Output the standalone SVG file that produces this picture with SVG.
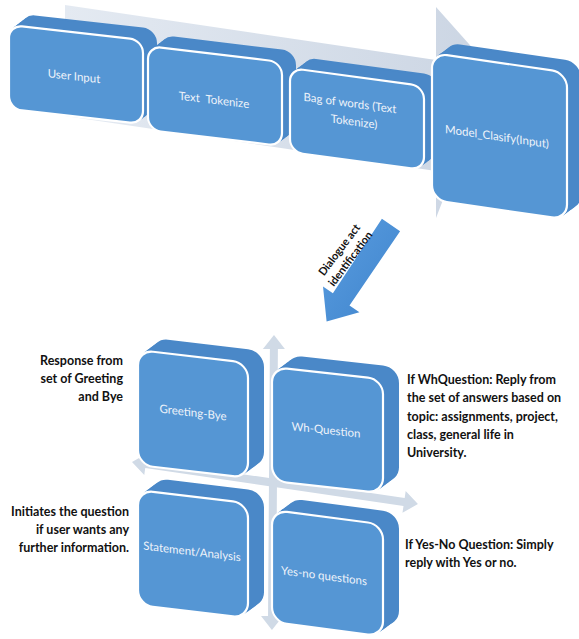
<svg xmlns="http://www.w3.org/2000/svg" width="579" height="639" viewBox="0 0 579 639">
<defs>
<linearGradient id="bandGrad" x1="0" y1="0" x2="1" y2="0">
<stop offset="0" stop-color="#e4eaf2"/>
<stop offset="1" stop-color="#cbd5e3"/>
</linearGradient>
<linearGradient id="dlgGrad" x1="0" y1="0" x2="1" y2="1">
<stop offset="0" stop-color="#5a9de0"/>
<stop offset="1" stop-color="#3f84cc"/>
</linearGradient>
<style>
.front{fill:#5596d4;stroke:#ffffff;stroke-width:2.2}
.ext{fill:#4a88c8;stroke:#4a88c8;stroke-width:2}
.lbl{font-family:Lato,"Open Sans","Liberation Sans",sans-serif;font-size:11.5px;fill:#eef3fa;text-anchor:middle}
.note{font-family:Lato,"Liberation Sans",sans-serif;font-weight:bold;font-size:12.5px;fill:#111111}
.dlg{font-family:Lato,"Liberation Sans",sans-serif;font-weight:bold;font-size:11px;fill:#111111;text-anchor:middle}
.axis{fill:#d0dae6}
</style>
</defs>
<rect width="579" height="639" fill="#ffffff"/>

<g id="connectors">
<polygon id="flow-band" fill="url(#bandGrad)" points="65,5 436,60 436,7 493,71 436,218 436,171 65,116"/>
<polygon id="axis-h" class="axis" transform="translate(132,462) rotate(8.35)" points="0,0 14,-11 14,-4 275,-4 275,-11 289,0 275,11 275,4 14,4 14,11"/>
<polygon id="axis-v" class="axis" transform="translate(274,335) rotate(90.4)" points="0,0 14,-11 14,-4 281,-4 281,-11 295,0 281,11 281,4 14,4 14,11"/>
<g id="dialogue-arrow">
<polygon fill="url(#dlgGrad)" points="381.9,218.8 400.1,231.2 349.5,305.5 359.4,312.3 326.6,321.5 323,286.5 332.9,293.3"/>
<text class="dlg" transform="translate(339.5,250) rotate(-53)" y="3.5">Dialogue act</text>
<text class="dlg" transform="translate(350.5,259) rotate(-53)" y="3.5">identification</text>
</g>
</g>

<g id="n-user-input" transform="matrix(1,0.112,0,1,9,25)">
<rect class="ext" x="2.6" y="-2.3" width="134" height="84" rx="13"/>
<rect class="ext" x="5.2" y="-4.6" width="134" height="84" rx="13"/>
<rect class="ext" x="7.8" y="-6.9" width="134" height="84" rx="13"/>
<rect class="ext" x="10.4" y="-9.2" width="134" height="84" rx="13"/>
<rect class="ext" x="13" y="-11.5" width="134" height="84" rx="13"/>
<rect class="front" width="134" height="84" rx="13"/>
<text class="lbl" x="65" y="48">User Input</text>
</g>

<g id="n-text-tokenize" transform="matrix(1,0.12,0,1,148,46)">
<rect class="ext" x="2.6" y="-2.3" width="134" height="84" rx="13"/>
<rect class="ext" x="5.2" y="-4.6" width="134" height="84" rx="13"/>
<rect class="ext" x="7.8" y="-6.9" width="134" height="84" rx="13"/>
<rect class="ext" x="10.4" y="-9.2" width="134" height="84" rx="13"/>
<rect class="ext" x="13" y="-11.5" width="134" height="84" rx="13"/>
<rect class="front" width="134" height="84" rx="13"/>
<text class="lbl" x="66" y="50" xml:space="preserve">Text  Tokenize</text>
</g>

<g id="n-bag-of-words" transform="matrix(1,0.135,0,1,290,68)">
<rect class="ext" x="2.6" y="-2.3" width="134" height="84" rx="13"/>
<rect class="ext" x="5.2" y="-4.6" width="134" height="84" rx="13"/>
<rect class="ext" x="7.8" y="-6.9" width="134" height="84" rx="13"/>
<rect class="ext" x="10.4" y="-9.2" width="134" height="84" rx="13"/>
<rect class="ext" x="13" y="-11.5" width="134" height="84" rx="13"/>
<rect class="front" width="134" height="84" rx="13"/>
<text class="lbl" x="60" y="31">Bag of words (Text</text>
<text class="lbl" x="64" y="49">Tokenize)</text>
</g>

<g id="n-model-classify" transform="matrix(1,0.145,0,1,432,53)">
<rect class="ext" x="2.6" y="-2.3" width="135" height="147" rx="15"/>
<rect class="ext" x="5.2" y="-4.6" width="135" height="147" rx="15"/>
<rect class="ext" x="7.8" y="-6.9" width="135" height="147" rx="15"/>
<rect class="ext" x="10.4" y="-9.2" width="135" height="147" rx="15"/>
<rect class="ext" x="13" y="-11.5" width="135" height="147" rx="15"/>
<rect class="front" width="135" height="147" rx="15"/>
<text class="lbl" x="65" y="78">Model_Clasify(Input)</text>
</g>

<g id="n-greeting-bye" transform="matrix(1,0.118,0,1,138,350)">
<rect class="ext" x="3" y="-2.56" width="110" height="115" rx="15"/>
<rect class="ext" x="6" y="-5.12" width="110" height="115" rx="15"/>
<rect class="ext" x="9" y="-7.68" width="110" height="115" rx="15"/>
<rect class="ext" x="12" y="-10.24" width="110" height="115" rx="15"/>
<rect class="ext" x="15" y="-12.8" width="110" height="115" rx="15"/>
<rect class="front" width="110" height="115" rx="15"/>
<text class="lbl" x="55" y="60">Greeting-Bye</text>
</g>

<g id="n-wh-question" transform="matrix(1,0.11,0,1,272,367)">
<rect class="ext" x="3" y="-2.56" width="111" height="114" rx="15"/>
<rect class="ext" x="6" y="-5.12" width="111" height="114" rx="15"/>
<rect class="ext" x="9" y="-7.68" width="111" height="114" rx="15"/>
<rect class="ext" x="12" y="-10.24" width="111" height="114" rx="15"/>
<rect class="ext" x="15" y="-12.8" width="111" height="114" rx="15"/>
<rect class="front" width="111" height="114" rx="15"/>
<text class="lbl" x="54" y="61">Wh-Question</text>
</g>

<g id="n-statement-analysis" transform="matrix(1,0.12,0,1,138,490)">
<rect class="ext" x="3" y="-2.56" width="110" height="115" rx="15"/>
<rect class="ext" x="6" y="-5.12" width="110" height="115" rx="15"/>
<rect class="ext" x="9" y="-7.68" width="110" height="115" rx="15"/>
<rect class="ext" x="12" y="-10.24" width="110" height="115" rx="15"/>
<rect class="ext" x="15" y="-12.8" width="110" height="115" rx="15"/>
<rect class="front" width="110" height="115" rx="15"/>
<text class="lbl" x="54" y="59">Statement/Analysis</text>
</g>

<g id="n-yes-no" transform="matrix(1,0.13,0,1,272,510)">
<rect class="ext" x="3" y="-2.56" width="111" height="112" rx="15"/>
<rect class="ext" x="6" y="-5.12" width="111" height="112" rx="15"/>
<rect class="ext" x="9" y="-7.68" width="111" height="112" rx="15"/>
<rect class="ext" x="12" y="-10.24" width="111" height="112" rx="15"/>
<rect class="ext" x="15" y="-12.8" width="111" height="112" rx="15"/>
<rect class="front" width="111" height="112" rx="15"/>
<text class="lbl" x="52" y="63">Yes-no questions</text>
</g>

<g id="note-greeting" class="note" text-anchor="end">
<text x="123" y="365">Response from</text>
<text x="123" y="383">set of Greeting</text>
<text x="123" y="401">and Bye</text>
</g>
<g id="note-wh" class="note">
<text x="407" y="384">If WhQuestion: Reply from</text>
<text x="407" y="402">the set of answers based on</text>
<text x="407" y="421">topic: assignments, project,</text>
<text x="407" y="439">class, general life in</text>
<text x="407" y="457">University.</text>
</g>
<g id="note-statement" class="note" text-anchor="end">
<text x="129" y="516">Initiates the question</text>
<text x="129" y="534">if user wants any</text>
<text x="129" y="552">further information.</text>
</g>
<g id="note-yesno" class="note">
<text x="405" y="549">If Yes-No Question: Simply</text>
<text x="405" y="567">reply with Yes or no.</text>
</g>
</svg>
